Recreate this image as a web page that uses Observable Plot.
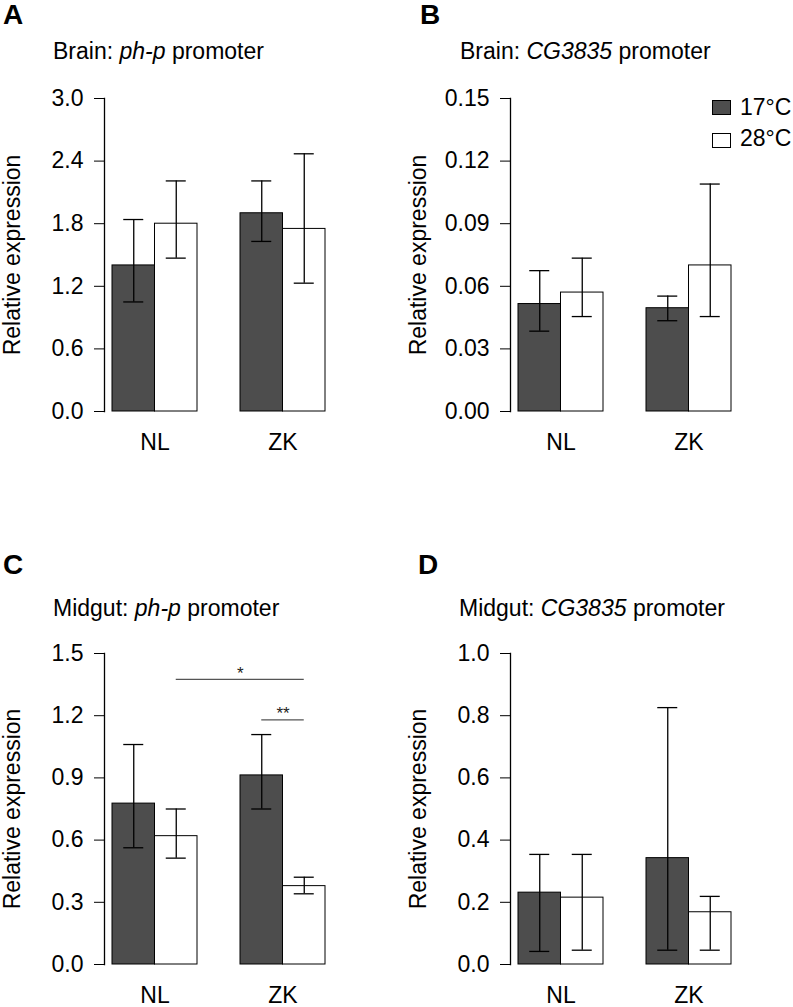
<!DOCTYPE html>
<html><head><meta charset="utf-8">
<script src="https://cdn.jsdelivr.net/npm/d3@7"></script>
<script src="https://cdn.jsdelivr.net/npm/@observablehq/plot@0.6"></script>
<style>
body{margin:0;background:#fff;overflow:hidden}
#fig{position:relative;width:793px;height:1007px;font-family:"Liberation Sans",Arial,Helvetica,sans-serif;color:#000;background:#fff}
.abs{position:absolute;white-space:nowrap;line-height:1}
.letter{font-weight:bold;font-size:28px}
.title{font-size:23px}
.panel{position:absolute}
.sw{position:absolute;width:19px;height:15px;box-sizing:border-box;border:1px solid #000}
.lt{font-size:23px}
</style></head><body><div id="fig"></div>
<script>
// categories
const groups = ["NL", "ZK"];
const temps = ["17°C", "28°C"];
const tempColors = ["#4d4d4d", "#ffffff"];

// values in order: NL 17°C, NL 28°C, ZK 17°C, ZK 28°C
// A: Brain, ph-p promoter
const aMean = [1.40, 1.80, 1.90, 1.75];
const aLo   = [1.05, 1.47, 1.63, 1.23];
const aHi   = [1.84, 2.21, 2.21, 2.47];
const aTicks = [0, 0.6, 1.2, 1.8, 2.4, 3.0];
// B: Brain, CG3835 promoter
const bMean = [0.0515, 0.0570, 0.0495, 0.0700];
const bLo   = [0.0385, 0.0455, 0.0435, 0.0455];
const bHi   = [0.0675, 0.0735, 0.0553, 0.1090];
const bTicks = [0, 0.03, 0.06, 0.09, 0.12, 0.15];
// C: Midgut, ph-p promoter
const cMean = [0.776, 0.619, 0.912, 0.378];
const cLo   = [0.563, 0.513, 0.750, 0.341];
const cHi   = [1.061, 0.750, 1.109, 0.421];
const cTicks = [0, 0.3, 0.6, 0.9, 1.2, 1.5];
// C significance brackets
const sigFrom = ["NL", "ZK"];
const sigFromTemp = ["28°C", "17°C"];
const sigTo = ["ZK", "ZK"];
const sigToTemp = ["28°C", "28°C"];
const sigY = [1.375, 1.18];
const sigLabel = ["*", "**"];
// D: Midgut, CG3835 promoter
const dMean = [0.231, 0.215, 0.342, 0.168];
const dLo   = [0.042, 0.046, 0.046, 0.046];
const dHi   = [0.354, 0.354, 0.826, 0.219];
const dTicks = [0, 0.2, 0.4, 0.6, 0.8, 1.0];

const yLabel = ["Relative expression"];

const rowsOf = (mean, lo, hi) =>
  groups.flatMap((g, i) => temps.map((t, j) => ({group: g, temp: t, mean: mean[i * 2 + j], lo: lo[i * 2 + j], hi: hi[i * 2 + j]})));

const fig = document.getElementById("fig");

function panel({rows, ticks, digits, left, top, mTop, frameH, mBottom, sig}) {
  const W = 387, mL = 104, mR = 54, pi = 0.336, po = 0.0625;
  const step = (W - mL - mR) / (groups.length - pi + 2 * po);
  const bw = step * (1 - pi), half = bw / 2, q = bw / 4, cap = 10;
  const marks = [];
  temps.forEach((t, j) => {
    const data = rows.filter(d => d.temp === t);
    marks.push(Plot.barY(data, {x: "group", y: "mean", fill: "temp", stroke: "#000", strokeWidth: 1,
      insetLeft: j === 0 ? 0 : half, insetRight: j === 0 ? half : 0}));
  });
  temps.forEach((t, j) => {
    const data = rows.filter(d => d.temp === t);
    const off = j === 0 ? q : half + q;
    const inL = off - cap, inR = bw - off - cap;
    marks.push(Plot.ruleX(data, {x: "group", y1: "lo", y2: "hi", dx: off - half, stroke: "#000", strokeWidth: 1.3}));
    marks.push(Plot.ruleY(data, {x1: "group", x2: "group", y: "lo", insetLeft: inL, insetRight: inR, stroke: "#000", strokeWidth: 1.3}));
    marks.push(Plot.ruleY(data, {x1: "group", x2: "group", y: "hi", insetLeft: inL, insetRight: inR, stroke: "#000", strokeWidth: 1.3}));
  });
  if (sig) {
    sig.forEach(s => {
      const offF = s.fromTemp === temps[0] ? q : half + q;
      const offT = s.toTemp === temps[0] ? q : half + q;
      const k = groups.indexOf(s.to) - groups.indexOf(s.from);
      marks.push(Plot.ruleY([s], {x1: "from", x2: "to", y: "y", insetLeft: offF, insetRight: bw - offT, stroke: "#555", strokeWidth: 1.3}));
      marks.push(Plot.text([s], {x: "to", y: "y", text: "label", dx: (offF + offT - step * k) / 2 - half, dy: -6, fontSize: 17, fill: "#222"}));
    });
  }
  marks.push(Plot.frame({anchor: "left", stroke: "#000", strokeWidth: 1.3}));
  marks.push(Plot.text(yLabel, {text: d => d, frameAnchor: "left", rotate: -90, dx: -101, lineAnchor: "top", textAnchor: "middle", fontSize: 23, fill: "#000"}));
  const chart = Plot.plot({
    width: W, height: mTop + frameH + mBottom,
    marginLeft: mL, marginRight: mR, marginTop: mTop, marginBottom: mBottom,
    style: {fontFamily: "'Liberation Sans', Arial, Helvetica, sans-serif", fontSize: "23px", color: "#000", background: "transparent", overflow: "visible"},
    x: {domain: groups, paddingInner: pi, paddingOuter: po, tickSize: 0, tickPadding: 22, label: null},
    y: {domain: [ticks[0], ticks[ticks.length - 1]], ticks, tickFormat: d => d.toFixed(digits), tickSize: 10, tickPadding: 11, label: null},
    color: {domain: temps, range: tempColors},
    marks
  });
  const wrap = document.createElement("div");
  wrap.className = "panel";
  wrap.style.left = left + "px";
  wrap.style.top = top + "px";
  wrap.appendChild(chart);
  fig.appendChild(wrap);
}

function addText(html, cls, left, top) {
  const d = document.createElement("div");
  d.className = "abs " + cls;
  d.style.left = left + "px";
  d.style.top = top + "px";
  d.innerHTML = html;
  fig.appendChild(d);
}

panel({rows: rowsOf(aMean, aLo, aHi), ticks: aTicks, digits: 1, left: 0, top: 80, mTop: 18, frameH: 313, mBottom: 50});
panel({rows: rowsOf(bMean, bLo, bHi), ticks: bTicks, digits: 2, left: 406, top: 80, mTop: 18, frameH: 313, mBottom: 50});
const sigRows = sigY.map((y, i) => ({from: sigFrom[i], fromTemp: sigFromTemp[i], to: sigTo[i], toTemp: sigToTemp[i], y, label: sigLabel[i]}));
panel({rows: rowsOf(cMean, cLo, cHi), ticks: cTicks, digits: 1, left: 0, top: 636, mTop: 17, frameH: 311, mBottom: 43, sig: sigRows});
panel({rows: rowsOf(dMean, dLo, dHi), ticks: dTicks, digits: 1, left: 406, top: 636, mTop: 17, frameH: 311, mBottom: 43});

addText("A", "letter", 3, 1);
addText("B", "letter", 420, 1);
addText("C", "letter", 3, 551);
addText("D", "letter", 418, 551);
addText("Brain: <i>ph-p</i> promoter", "title", 53, 39.5);
addText("Brain: <i>CG3835</i> promoter", "title", 460, 39.5);
addText("Midgut: <i>ph-p</i> promoter", "title", 53, 596.5);
addText("Midgut: <i>CG3835</i> promoter", "title", 459, 596.5);

// legend (panel B)
temps.forEach((t, i) => {
  const sw = document.createElement("div");
  sw.className = "sw";
  sw.style.left = "712px";
  sw.style.top = (100 + i * 33) + "px";
  sw.style.background = tempColors[i];
  fig.appendChild(sw);
  addText(t, "lt", 740, 95.5 + i * 31.5);
});
</script></body></html>
